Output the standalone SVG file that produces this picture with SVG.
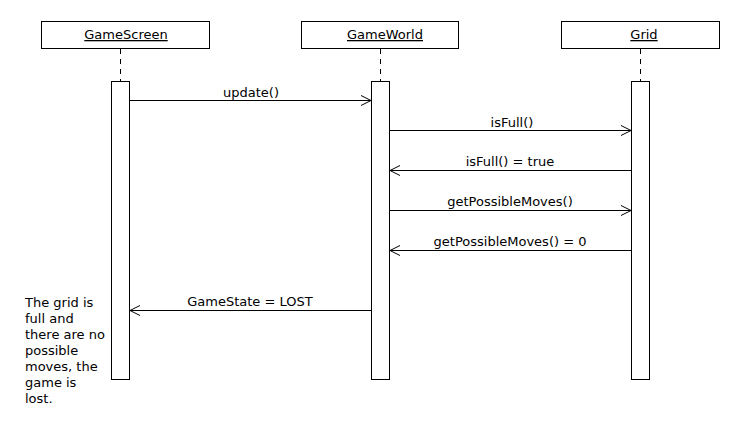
<svg xmlns="http://www.w3.org/2000/svg" width="750" height="430" viewBox="0 0 750 430">
<style>
.box{fill:#fff;stroke:#000;stroke-width:1}
.life{stroke:#000;stroke-width:1;stroke-dasharray:5,5}
.hdr{font-family:"DejaVu Sans",sans-serif;font-size:13px;text-anchor:middle;text-decoration:underline}
.lbl{font-family:"DejaVu Sans",sans-serif;font-size:13px;text-anchor:middle}
.note{font-family:"DejaVu Sans",sans-serif;font-size:13px}
.msg{stroke:#000;stroke-width:1;fill:none}
</style>
<rect width="750" height="430" fill="#fff"/>
<g id="GameScreen">
<rect class="box" x="41.5" y="21.5" width="168" height="27"/>
<text class="hdr" x="126" y="39">GameScreen</text>
<line class="life" x1="120.5" y1="49" x2="120.5" y2="81"/>
<rect class="box" x="111.5" y="81.5" width="18" height="298"/>
</g>
<g id="GameWorld">
<rect class="box" x="301.5" y="21.5" width="157" height="27"/>
<text class="hdr" x="385" y="39">GameWorld</text>
<line class="life" x1="380.5" y1="49" x2="380.5" y2="81"/>
<rect class="box" x="371.5" y="81.5" width="18" height="298"/>
</g>
<g id="Grid">
<rect class="box" x="561.5" y="21.5" width="158" height="27"/>
<text class="hdr" x="644" y="39">Grid</text>
<line class="life" x1="640.5" y1="49" x2="640.5" y2="81"/>
<rect class="box" x="631.5" y="81.5" width="18" height="298"/>
</g>
<g id="connectors">
<line class="msg" x1="130" y1="100.5" x2="371" y2="100.5"/>
<polyline class="msg" points="361,95.5 371,100.5 361,105.5"/>
<text class="lbl" x="251" y="97">update()</text>
<line class="msg" x1="390" y1="130.5" x2="631" y2="130.5"/>
<polyline class="msg" points="621,125.5 631,130.5 621,135.5"/>
<text class="lbl" x="512" y="127">isFull()</text>
<line class="msg" x1="390" y1="170.5" x2="631" y2="170.5"/>
<polyline class="msg" points="400,165.5 390,170.5 400,175.5"/>
<text class="lbl" x="510" y="166">isFull() = true</text>
<line class="msg" x1="390" y1="210.5" x2="631" y2="210.5"/>
<polyline class="msg" points="621,205.5 631,210.5 621,215.5"/>
<text class="lbl" x="510" y="206">getPossibleMoves()</text>
<line class="msg" x1="390" y1="250.5" x2="631" y2="250.5"/>
<polyline class="msg" points="400,245.5 390,250.5 400,255.5"/>
<text class="lbl" x="510" y="246">getPossibleMoves() = 0</text>
<line class="msg" x1="130" y1="310.5" x2="371" y2="310.5"/>
<polyline class="msg" points="140,305.5 130,310.5 140,315.5"/>
<text class="lbl" x="250" y="306">GameState = LOST</text>
</g>
<g id="note">
<text class="note" x="25" y="307">The grid is</text>
<text class="note" x="25" y="323">full and</text>
<text class="note" x="25" y="339">there are no</text>
<text class="note" x="25" y="355">possible</text>
<text class="note" x="25" y="371">moves, the</text>
<text class="note" x="25" y="387">game is</text>
<text class="note" x="25" y="403">lost.</text>
</g>
</svg>
